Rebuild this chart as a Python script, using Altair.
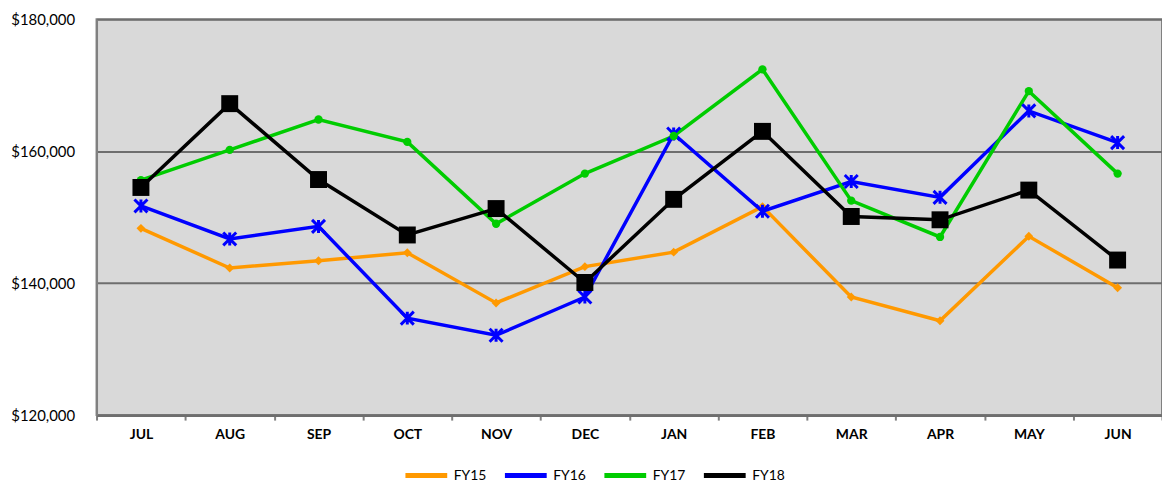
import altair as alt
import pandas as pd

months = ["JUL", "AUG", "SEP", "OCT", "NOV", "DEC", "JAN", "FEB", "MAR", "APR", "MAY", "JUN"]
series = ["FY15", "FY16", "FY17", "FY18"]
fy15 = [148300, 142300, 143400, 144600, 137000, 142500, 144700, 151600, 137900, 134300, 147100, 139300]
fy16 = [151700, 146700, 148600, 134700, 132100, 137900, 162600, 150900, 155400, 153000, 166100, 161300]
fy17 = [155600, 160200, 164800, 161400, 149000, 156600, 162300, 172400, 152500, 147000, 169100, 156600]
fy18 = [154500, 167200, 155700, 147300, 151300, 140100, 152700, 163000, 150100, 149600, 154100, 143500]
colors = ["#FF9900", "#0000FF", "#00CC00", "#000000"]

rows = []
for name, vals in zip(series, [fy15, fy16, fy17, fy18]):
    for m, v in zip(months, vals):
        rows.append({"month": m, "series": name, "value": v})
df = pd.DataFrame(rows)

FONT = "Lato"

x = alt.X("month:N", sort=months, scale=alt.Scale(paddingInner=0, paddingOuter=0),
          axis=alt.Axis(title=None, labelAngle=0, labelFont=FONT, labelFontWeight="bold",
                        labelFontSize=14, labelColor="#000000", tickBand="extent",
                        tickSize=5, tickColor="#808080", tickWidth=2,
                        domainColor="#6e6e6e", domainWidth=3, labelPadding=7, grid=False))
y = alt.Y("value:Q", scale=alt.Scale(domain=[120000, 180000], nice=False),
          axis=alt.Axis(title=None, values=[120000, 140000, 160000, 180000], format="$,.0f",
                        labelFont=FONT, labelFontSize=15, labelColor="#000000",
                        ticks=False, labelPadding=22, domainColor="#808080", domainWidth=2,
                        grid=True, gridColor="#6e6e6e", gridWidth=2))
color = alt.Color("series:N", scale=alt.Scale(domain=series, range=colors),
                  legend=alt.Legend(title=None, orient="none", direction="horizontal",
                                    legendX=308, legendY=435, symbolType="stroke",
                                    symbolStrokeWidth=5, symbolSize=1764,
                                    labelFont=FONT, labelFontSize=14, labelColor="#000000",
                                    columnPadding=8, labelOffset=4))

base = alt.Chart(df)
lines = base.mark_line(strokeWidth=3.5).encode(x=x, y=y, color=color)

def pts(name, **kw):
    return base.transform_filter(alt.datum.series == name).mark_point(**kw).encode(x=x, y=y)

p15 = pts("FY15", shape="diamond", filled=True, color="#FF9900", size=80, opacity=1)
p16 = pts("FY16", shape="M-1,-1L1,1M-1,1L1,-1M0,-1L0,1", filled=False, color="#0000FF",
          size=170, strokeWidth=3, opacity=1)
p17 = pts("FY17", shape="circle", filled=True, color="#00CC00", size=70, opacity=1)
p18 = pts("FY18", shape="square", filled=True, color="#000000", size=290, opacity=1)

chart = alt.layer(lines, p15, p16, p17, p18).properties(
    width=1071, height=398,
    autosize=alt.AutoSizeParams(type="none"),
    padding={"left": 89, "top": 10, "right": 0, "bottom": 70},
).configure_view(fill="#D9D9D9", stroke="#808080", strokeWidth=2)

chart.save("out.html", embed_options={"renderer": "svg", "actions": False})
